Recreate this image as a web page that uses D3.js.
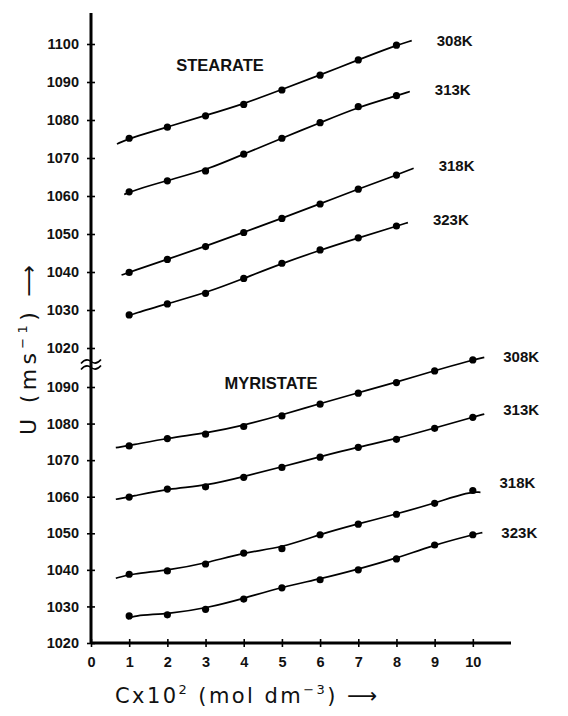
<!DOCTYPE html>
<html><head><meta charset="utf-8">
<script src="https://cdn.jsdelivr.net/npm/d3@7/dist/d3.min.js"></script>
<style>body{margin:0;background:#fff}svg{display:block}</style>
</head><body>
<script>
// ---------- data ----------
const concentrations = [1,2,3,4,5,6,7,8,9,10];
const temperatures = ["308K","313K","318K","323K"];
const xTicks = [0,1,2,3,4,5,6,7,8,9,10];
const stearateTicks = [1020,1030,1040,1050,1060,1070,1080,1090,1100];
const myristateTicks = [1020,1030,1040,1050,1060,1070,1080,1090];

const stearate308 = [1075.2,1078.1,1081.1,1084.1,1087.9,1091.8,1095.8,1099.7];
const stearate313 = [1061.1,1064.0,1066.6,1071.0,1075.2,1079.3,1083.5,1086.4];
const stearate318 = [1039.9,1043.3,1046.7,1050.4,1054.1,1057.9,1061.8,1065.5];
const stearate323 = [1028.7,1031.6,1034.4,1038.3,1042.3,1045.8,1049.0,1052.1];
// fitted-curve end points [c, u]
const stearateFitStart = [[0.68,1073.7],[0.87,1060.4],[0.8,1039.2],[1.0,1028.4]];
const stearateFitEnd   = [[8.4,1100.9],[8.35,1087.5],[8.45,1067.3],[8.3,1053.0]];

const myristate308 = [1073.9,1075.9,1077.1,1079.2,1082.1,1085.3,1088.3,1091.2,1094.4,1097.4];
const myristate313 = [1059.9,1062.1,1062.7,1065.3,1068.0,1070.8,1073.5,1075.7,1078.7,1081.7];
const myristate318 = [1038.8,1039.7,1041.6,1044.6,1045.8,1049.6,1052.5,1055.2,1058.2,1061.7];
const myristate323 = [1027.4,1027.7,1029.2,1032.0,1035.1,1037.3,1040.0,1043.0,1046.8,1049.6];
const myristateFitStart = [[0.65,1073.4],[0.65,1059.3],[0.65,1037.7],[0.97,1026.5]];
const myristateFitEnd   = [[10.3,1098.1],[10.3,1082.6],[10.2,1061.2],[10.25,1050.2]];

// ---------- layout ----------
const W = 568, H = 716;
const svg = d3.select("body").append("svg").attr("width", W).attr("height", H);
const FONT = "'Liberation Sans', Arial, Helvetica, sans-serif";
const HAND = "'DejaVu Sans', sans-serif";

const x = d3.scaleLinear().domain([0, 11]).range([91, 511]);
const yTop = d3.scaleLinear().domain([1020, 1100]).range([348, 44]);
const yBot = d3.scaleLinear().domain([1020, 1090]).range([643, 387]);

const panels = [
  {name: "STEARATE", y: yTop, ticks: stearateTicks,
   series: [stearate308, stearate313, stearate318, stearate323],
   starts: stearateFitStart, ends: stearateFitEnd,
   nameX: 220, nameY: 71, labDx: 25, labDy: [5,3,3,2]},
  {name: "MYRISTATE", y: yBot, ticks: myristateTicks,
   series: [myristate308, myristate313, myristate318, myristate323],
   starts: myristateFitStart, ends: myristateFitEnd,
   nameX: 271, nameY: 389, labDx: 19, labDy: [5,1,-4,5]}
];

const line = d3.line().curve(d3.curveBundle.beta(0.9));

panels.forEach(p => {
  const g = svg.append("g");
  // y axis ticks
  const ax = svg.append("g").attr("transform", `translate(${x(0)},0)`)
    .call(d3.axisLeft(p.y).tickValues(p.ticks).tickSize(4).tickPadding(8).tickFormat(d3.format("d")));
  ax.select(".domain").remove();
  ax.selectAll(".tick line").attr("x1", -4).attr("x2", 4).attr("stroke", "#000").attr("stroke-width", 1.6);
  ax.selectAll(".tick text").attr("font-family", FONT).attr("font-size", 14.5)
    .attr("font-weight", "bold").attr("fill", "#111");

  // curves and points
  p.series.forEach((vals, i) => {
    const pts = vals.map((v, j) => [concentrations[j], v]);
    const fit = [p.starts[i], ...pts, p.ends[i]].map(d => [x(d[0]), p.y(d[1])]);
    g.append("path").attr("d", line(fit)).attr("fill", "none")
      .attr("stroke", "#000").attr("stroke-width", 1.7);
    g.selectAll(null).data(pts).enter().append("circle")
      .attr("cx", d => x(d[0])).attr("cy", d => p.y(d[1])).attr("r", 3.6).attr("fill", "#000");
    g.append("text").attr("x", x(p.ends[i][0]) + p.labDx).attr("y", p.y(p.ends[i][1]) + p.labDy[i])
      .attr("font-family", FONT).attr("font-size", 15).attr("font-weight", "bold")
      .attr("fill", "#111").text(temperatures[i]);
  });

  g.append("text").attr("x", p.nameX).attr("y", p.nameY).attr("text-anchor", "middle")
    .attr("font-family", FONT).attr("font-size", 16.5).attr("font-weight", "bold")
    .attr("fill", "#111").text(p.name);
});

// main y axis line
svg.append("line").attr("x1", x(0)).attr("x2", x(0)).attr("y1", 13).attr("y2", yBot(1020))
  .attr("stroke", "#000").attr("stroke-width", 3);

// axis break mark
const brk = (yTop(1020) + yBot(1090)) / 2 - 3;
[-3, 3].forEach(o => {
  svg.append("path")
    .attr("d", `M${x(0)-10},${brk+o+2} q5,-6 10,-2 t10,-2`)
    .attr("fill", "none").attr("stroke", "#000").attr("stroke-width", 1.6);
});

// x axis
const xa = svg.append("g").attr("transform", `translate(0,${yBot(1020)})`)
  .call(d3.axisBottom(x).tickValues(xTicks).tickSize(4).tickPadding(10).tickFormat(d3.format("d")));
xa.select(".domain").attr("stroke", "#000").attr("stroke-width", 3).attr("d", `M${x(0)},0H${x(11)}`);
xa.selectAll(".tick line").attr("y1", -4).attr("y2", 4).attr("stroke", "#000").attr("stroke-width", 1.6);
xa.selectAll(".tick text").attr("font-family", FONT).attr("font-size", 14.5)
  .attr("font-weight", "bold").attr("fill", "#111");

// axis titles
svg.append("text").attr("x", 115).attr("y", 703)
  .attr("font-family", HAND).attr("font-size", 21).attr("fill", "#111")
  .attr("textLength", 262).attr("lengthAdjust", "spacing")
  .html('Cx10<tspan dy="-9" font-size="13">2</tspan><tspan dy="9"> (mol dm</tspan><tspan dy="-9" font-size="13">−3</tspan><tspan dy="9">) ⟶</tspan>');

svg.append("text").attr("transform", "translate(36,435) rotate(-90)")
  .attr("font-family", HAND).attr("font-size", 22).attr("fill", "#111")
  .attr("textLength", 170).attr("lengthAdjust", "spacing")
  .html('U (ms<tspan dy="-9" font-size="13">−1</tspan><tspan dy="9">) ⟶</tspan>');
</script>
</body></html>
